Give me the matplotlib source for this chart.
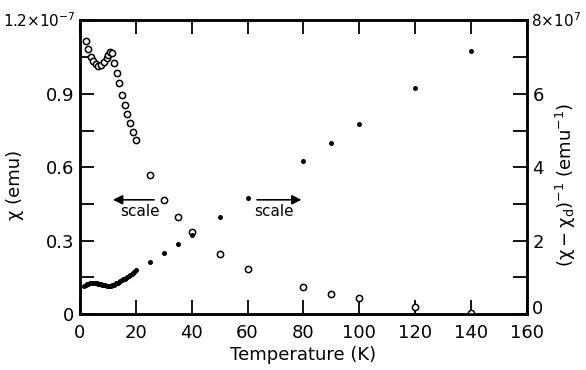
import matplotlib
matplotlib.use("Agg")
import matplotlib.pyplot as plt
from matplotlib.ticker import MultipleLocator, FixedLocator

# susceptibility chi (open circles, left axis, units of 1e-7 emu)
t_chi = [2.2, 2.7, 3.8, 4.8, 5.6, 6.5, 7.5, 8.6, 9.5, 10.1, 10.8, 11.5, 12.3, 13.1,
         14.0, 14.9, 16.0, 17.0, 17.9, 19.0, 20.1, 25, 30, 35, 40, 50, 60, 80, 90,
         100, 120, 140]
chi = [1.116, 1.085, 1.05, 1.035, 1.022, 1.015, 1.018, 1.028, 1.045, 1.06, 1.07,
       1.065, 1.027, 0.985, 0.943, 0.896, 0.855, 0.817, 0.78, 0.742, 0.711, 0.570,
       0.467, 0.396, 0.334, 0.247, 0.185, 0.109, 0.082, 0.064, 0.030, 0.005]

# inverse susceptibility (filled dots, right axis, units of 1e7 emu^-1)
t_inv_low = [1.5, 2.0, 2.5, 3.0, 3.5, 4.0, 4.5, 5.0, 5.5, 6.0, 6.5, 7.0, 7.5, 8.0,
             8.5, 9.0, 9.5, 10.0, 10.5, 11.0, 11.5, 12.0, 12.5, 13.0, 13.5, 14.0,
             14.5, 15.0, 15.5, 16.0, 16.5, 17.0, 17.5, 18.0, 18.5, 19.0, 19.5, 20.0]
inv_low = [0.76, 0.79, 0.81, 0.83, 0.84, 0.845, 0.85, 0.85, 0.845, 0.84, 0.83, 0.82,
           0.81, 0.80, 0.79, 0.78, 0.77, 0.765, 0.765, 0.77, 0.785, 0.80, 0.82, 0.84,
           0.86, 0.88, 0.90, 0.92, 0.945, 0.97, 0.995, 1.02, 1.045, 1.07, 1.10,
           1.13, 1.16, 1.19]
t_inv = [25, 30, 35, 40, 50, 60, 80, 90, 100, 120, 140]
inv = [1.42, 1.66, 1.91, 2.16, 2.64, 3.15, 4.17, 4.67, 5.18, 6.15, 7.16]

left_ticks = ['0', '0.3', '0.6', '0.9', '']
right_ticks = ['', '2', '4', '6', '']

plt.rcParams['font.family'] = ['DejaVu Sans']
plt.rcParams['font.size'] = 12

fig = plt.figure(figsize=(5.86, 3.70), dpi=100)
ax = fig.add_axes([0.1365, 0.151, 0.7625, 0.794])
ax2 = ax.twinx()

ax.plot(t_chi, chi, 'o', mfc='white', mec='black', ms=4.5, mew=1.1, zorder=3)
ax2.plot(t_inv_low, inv_low, 'o', color='black', ms=3.6, mew=0)
ax2.plot(t_inv, inv, 'o', color='black', ms=3.6, mew=0)

ax.set_xlim(0, 160)
ax.set_ylim(0, 1.2)
ax2.set_ylim(0, 8)

ax.xaxis.set_major_locator(MultipleLocator(20))
ax.yaxis.set_major_locator(FixedLocator([0, 0.3, 0.6, 0.9, 1.2]))
ax.yaxis.set_minor_locator(FixedLocator([0.15, 0.45, 0.75, 1.05]))
ax.set_yticklabels(left_ticks)
ax2.yaxis.set_major_locator(FixedLocator([0, 2, 4, 6, 8]))
ax2.yaxis.set_minor_locator(FixedLocator([1, 3, 5, 7]))
ax2.set_yticklabels(right_ticks)

ax.tick_params(axis='both', which='both', direction='in', top=True, width=1.3)
ax.tick_params(axis='both', which='major', length=10, labelsize=13, pad=4)
ax.tick_params(axis='x', which='major', pad=7)
ax.tick_params(axis='y', which='minor', length=10)
ax2.tick_params(axis='y', which='both', direction='in', length=10, width=1.3,
                labelsize=13, pad=4)
for a in (ax, ax2):
    for s in a.spines.values():
        s.set_linewidth(1.8)

# end labels placed by hand
ax.text(-0.01, 1.0, r'1.2$\times$10$^{-7}$', transform=ax.transAxes,
        ha='right', va='center', fontsize=11)
ax.text(1.01, 1.0, r'8$\times$10$^{7}$', transform=ax.transAxes,
        ha='left', va='center', fontsize=11)
ax.text(1.012, 0.018, '0', transform=ax.transAxes, ha='left', va='center',
        fontsize=13)

ax.set_xlabel('Temperature (K)', fontsize=13, labelpad=3)
fig.text(15 / 586, 0.5, 'χ (emu)', rotation=90, ha='center', va='center',
         fontsize=13)
fig.text(566 / 586, 0.5, r'($\mathregular{\chi-\chi_d}$)$^{-1}$ (emu$^{-1}$)',
         rotation=90, ha='center', va='center', fontsize=13)

# scale arrows
ax.annotate('', xy=(10.8, 0.467), xytext=(27.5, 0.467),
            arrowprops=dict(arrowstyle='-|>', color='black', lw=1.2,
                            mutation_scale=14))
ax.text(21.5, 0.42, 'scale', ha='center', va='center', fontsize=11)
ax.annotate('', xy=(80.3, 0.467), xytext=(62.4, 0.467),
            arrowprops=dict(arrowstyle='-|>', color='black', lw=1.2,
                            mutation_scale=14))
ax.text(69.5, 0.42, 'scale', ha='center', va='center', fontsize=11)

fig.savefig('out.png', dpi=100)
